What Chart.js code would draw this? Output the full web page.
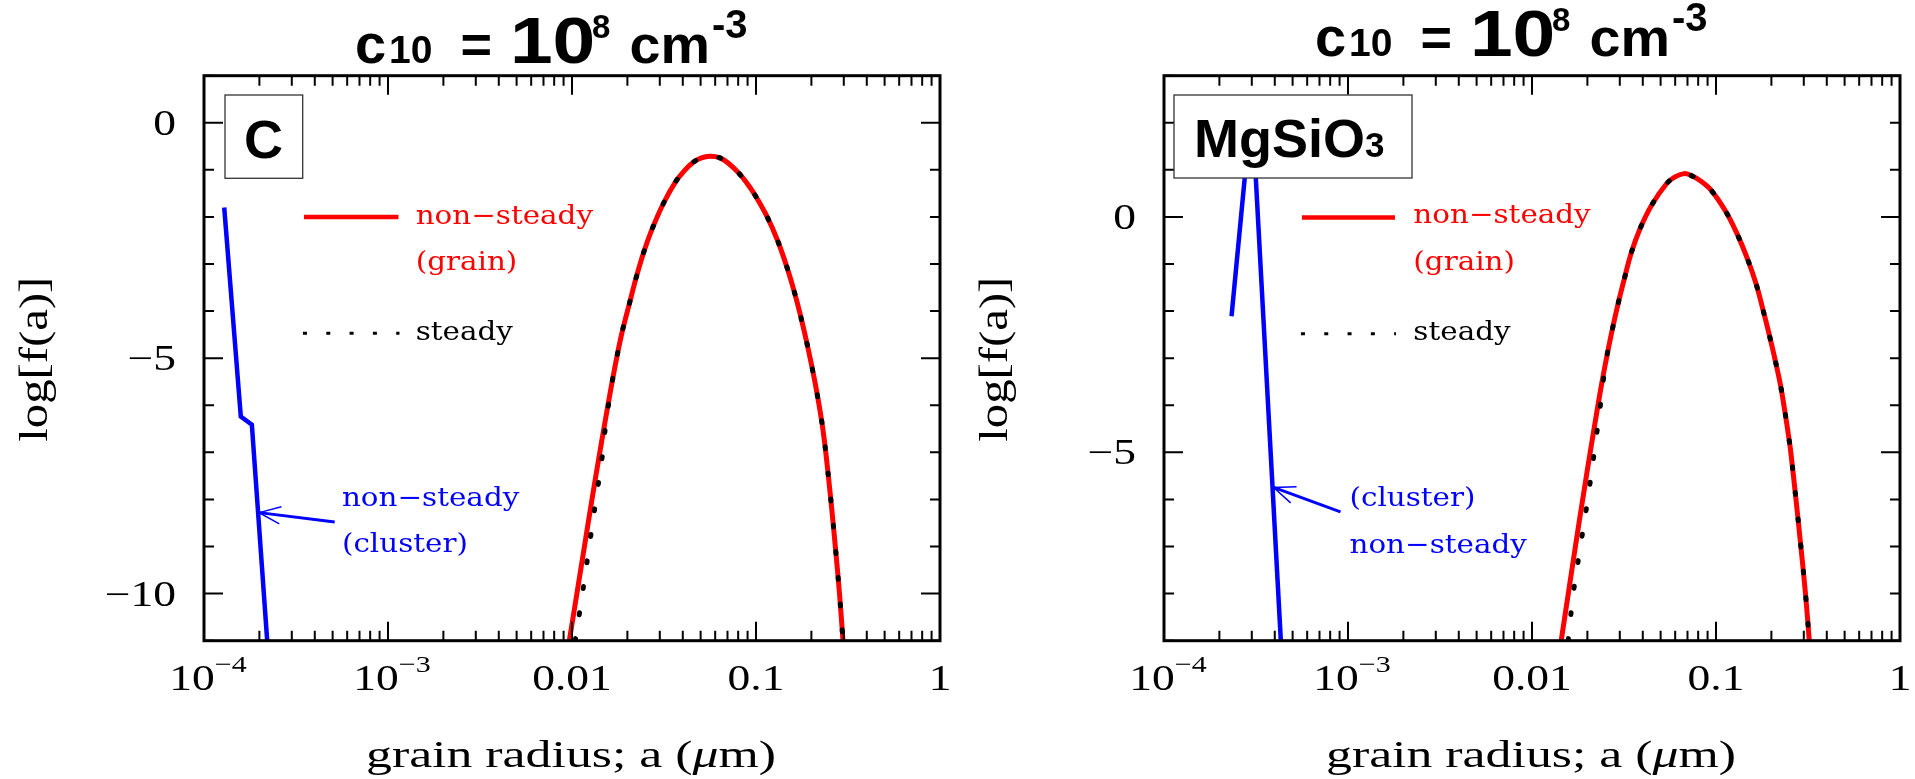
<!DOCTYPE html>
<html>
<head>
<meta charset="utf-8">
<title>grain size distribution</title>
<script src="https://cdn.jsdelivr.net/npm/chart.js@4.4.1/dist/chart.umd.min.js"></script>
<style>
  html, body { margin: 0; padding: 0; background: #fff; }
  canvas { position: absolute; top: 0; }
  #chartC { left: 0; }
  #chartMg { left: 960px; }
</style>
</head>
<body>
<canvas id="chartC" width="960" height="779"></canvas>
<canvas id="chartMg" width="955" height="779"></canvas>
<script>
// log f(a) against grain radius a (um), c10 = 1e8 cm^-3

// carbon: grain (non-steady), steady, cluster (non-steady)
const cGrainA = [0.00967, 0.01063, 0.01168, 0.01284, 0.01416, 0.01482, 0.01563, 0.01660, 0.01762, 0.01884,
  0.02051, 0.02228, 0.02443, 0.02710, 0.03133, 0.03631, 0.04074, 0.04560, 0.05010, 0.05623,
  0.06324, 0.07080, 0.08110, 0.09120, 0.09890, 0.11540, 0.13130, 0.14680, 0.16150, 0.17470,
  0.18840, 0.20200, 0.21450, 0.22700, 0.23420, 0.23950, 0.25500, 0.26980, 0.28430, 0.29700];
const cGrainLogF = [-11.0, -10.0, -9.0, -8.0, -7.0, -6.55, -6.03, -5.46, -4.93, -4.40,
  -3.84, -3.30, -2.77, -2.28, -1.72, -1.27, -1.02, -0.84, -0.75, -0.71,
  -0.74, -0.86, -1.08, -1.33, -1.54, -2.01, -2.51, -3.05, -3.59, -4.10,
  -4.65, -5.21, -5.74, -6.31, -6.69, -7.0, -8.0, -9.0, -10.0, -11.0];
const cSteadyA = [0.01041, 0.01139, 0.01240, 0.01350, 0.01470, 0.01510, 0.01573, 0.01660, 0.01762, 0.01884,
  0.02051, 0.02228, 0.02443, 0.02710, 0.03133, 0.03631, 0.04074, 0.04560, 0.05010, 0.05623,
  0.06324, 0.07080, 0.08110, 0.09120, 0.09890, 0.11540, 0.13130, 0.14680, 0.16150, 0.17470,
  0.18840, 0.20200, 0.21450, 0.22700, 0.23420, 0.23950, 0.25500, 0.26980, 0.28430, 0.29700];
const cSteadyLogF = cGrainLogF.slice();
const cClusterA = [1.288e-4, 1.585e-4, 1.820e-4, 2.205e-4];
const cClusterLogF = [-1.80, -6.24, -6.41, -11.0];

// MgSiO3
const mgGrainA = [0.01441, 0.01575, 0.01721, 0.01886, 0.02071, 0.02278, 0.02410, 0.02563, 0.02735, 0.02938,
  0.03177, 0.03451, 0.03864, 0.04467, 0.05395, 0.05985, 0.06699, 0.07278, 0.08254, 0.09354,
  0.11320, 0.13060, 0.14790, 0.16480, 0.17950, 0.19410, 0.20940, 0.22410, 0.23650, 0.24840,
  0.25500, 0.27210, 0.28920, 0.30640, 0.32150];
const mgGrainLogF = [-9.0, -8.0, -7.0, -6.0, -5.0, -4.02, -3.47, -2.92, -2.38, -1.84,
  -1.31, -0.78, -0.25, 0.25, 0.71, 0.85, 0.92, 0.885, 0.764, 0.58,
  0.11, -0.37, -0.88, -1.41, -1.95, -2.48, -3.03, -3.57, -4.12, -4.67,
  -5.0, -6.0, -7.0, -8.0, -9.0];
const mgSteadyA = [0.01573, 0.01676, 0.01832, 0.02008, 0.02178, 0.02350, 0.02440, 0.02563, 0.02735, 0.02938,
  0.03177, 0.03451, 0.03864, 0.04467, 0.05395, 0.05985, 0.06699, 0.07278, 0.08254, 0.09354,
  0.11320, 0.13060, 0.14790, 0.16480, 0.17950, 0.19410, 0.20940, 0.22410, 0.23650, 0.24840,
  0.25500, 0.27210, 0.28920, 0.30640, 0.32150];
const mgSteadyLogF = mgGrainLogF.slice();
const mgClusterA = [2.328e-4, 3.000e-4, 4.315e-4];
const mgClusterLogF = [-2.11, 2.40, -9.0];

// axes
const xTickValues = [1e-4, 1e-3, 0.01, 0.1, 1];
const xTickLabels = [['10', '\u22124'], ['10', '\u22123'], ['0.01'], ['0.1'], ['1']];
const cYTickValues = [0, -5, -10];
const mgYTickValues = [0, -5];

const RED = '#ff0000';
const BLUE = '#0000ff';
const SERIF = '"Liberation Serif", "Times New Roman", serif';
const NOTE = '"DejaVu Serif", serif';
const SANS = '"Liberation Sans", Arial, sans-serif';

const pts = (xs, ys) => xs.map((x, i) => ({ x: x, y: ys[i] }));
const isDecade = v => Math.abs(Math.log10(v) - Math.round(Math.log10(v))) < 1e-9;

// text pieces laid side by side, each with its own font, horizontal stretch and baseline shift
function drawParts(ctx, parts, x, y, align) {
  let total = 0;
  const widths = parts.map(p => {
    ctx.font = p.font;
    const w = ctx.measureText(p.text).width * (p.sx || 1);
    total += w;
    return w;
  });
  let cx = align === 'center' ? x - total / 2 : align === 'right' ? x - total : x;
  parts.forEach((p, i) => {
    ctx.save();
    ctx.font = p.font;
    ctx.textAlign = 'left';
    ctx.textBaseline = 'alphabetic';
    ctx.translate(cx, y + (p.dy || 0));
    ctx.scale(p.sx || 1, 1);
    ctx.fillText(p.text, 0, 0);
    ctx.restore();
    cx += widths[i];
  });
}

function drawArrow(ctx, x0, y0, x1, y1, color) {
  const ang = Math.atan2(y0 - y1, x0 - x1);
  const len = 23, spread = 22 * Math.PI / 180;
  ctx.strokeStyle = color;
  ctx.lineCap = 'butt';
  ctx.lineWidth = 3;
  ctx.beginPath();
  ctx.moveTo(x0, y0);
  ctx.lineTo(x1, y1);
  ctx.stroke();
  ctx.lineWidth = 1.5;
  ctx.beginPath();
  ctx.moveTo(x1 + len * Math.cos(ang - spread), y1 + len * Math.sin(ang - spread));
  ctx.lineTo(x1, y1);
  ctx.lineTo(x1 + len * Math.cos(ang + spread), y1 + len * Math.sin(ang + spread));
  ctx.stroke();
}

function makeDecor(panel) {
  return {
    id: 'panelDecor',
    afterDatasetsDraw(chart) {
      const { ctx, chartArea: ca } = chart;
      const xs = chart.scales.x, ys = chart.scales.y;
      ctx.save();

      // inward tick marks on all four sides
      ctx.strokeStyle = '#000';
      ctx.lineWidth = 2;
      ctx.beginPath();
      xs.ticks.forEach(t => {
        const px = xs.getPixelForValue(t.value);
        const len = isDecade(t.value) ? 19 : 10;
        ctx.moveTo(px, ca.bottom); ctx.lineTo(px, ca.bottom - len);
        ctx.moveTo(px, ca.top); ctx.lineTo(px, ca.top + len);
      });
      ys.ticks.forEach(t => {
        const py = ys.getPixelForValue(t.value);
        const len = t.value % 5 === 0 ? 19 : 10;
        ctx.moveTo(ca.left, py); ctx.lineTo(ca.left + len, py);
        ctx.moveTo(ca.right, py); ctx.lineTo(ca.right - len, py);
      });
      ctx.stroke();

      // species box
      const b = panel.box;
      ctx.fillStyle = '#fff';
      ctx.fillRect(b.x, b.y, b.w, b.h);
      ctx.strokeStyle = '#333';
      ctx.lineWidth = 1.3;
      ctx.strokeRect(b.x, b.y, b.w, b.h);
      ctx.fillStyle = '#000';
      drawParts(ctx, b.parts, b.tx, b.ty, b.align);

      // frame
      ctx.strokeStyle = '#000';
      ctx.lineWidth = 3;
      ctx.strokeRect(ca.left, ca.top, ca.right - ca.left, ca.bottom - ca.top);

      // legend samples
      const lg = panel.legend;
      const lx0 = xs.getPixelForValue(lg.from), lx1 = xs.getPixelForValue(lg.to);
      ctx.strokeStyle = RED;
      ctx.lineWidth = 4.5;
      ctx.beginPath();
      ctx.moveTo(lx0, ys.getPixelForValue(lg.lineY));
      ctx.lineTo(lx1, ys.getPixelForValue(lg.lineY));
      ctx.stroke();
      ctx.strokeStyle = '#000';
      ctx.lineWidth = 3;
      ctx.lineCap = 'butt';
      ctx.setLineDash([4, 19.3]);
      ctx.beginPath();
      ctx.moveTo(lx0 - 1, ys.getPixelForValue(lg.dotsY));
      ctx.lineTo(lx1 + 1, ys.getPixelForValue(lg.dotsY));
      ctx.stroke();
      ctx.setLineDash([]);

      const tx = xs.getPixelForValue(lg.textA);
      const noteFont = '26px ' + NOTE;
      ctx.fillStyle = RED;
      drawParts(ctx, [{ text: 'non\u2212steady', font: noteFont, sx: 1.13 }], tx, ys.getPixelForValue(lg.textY[0]), 'left');
      drawParts(ctx, [{ text: '(grain)', font: noteFont, sx: 1.13 }], tx, ys.getPixelForValue(lg.textY[1]), 'left');
      ctx.fillStyle = '#000';
      drawParts(ctx, [{ text: 'steady', font: noteFont, sx: 1.13 }], tx, ys.getPixelForValue(lg.textY[2]), 'left');

      // cluster note and arrow
      const cn = panel.clusterNote;
      ctx.fillStyle = BLUE;
      cn.lines.forEach((s, i) => {
        drawParts(ctx, [{ text: s, font: noteFont, sx: 1.13 }], xs.getPixelForValue(cn.a), ys.getPixelForValue(cn.y[i]), 'left');
      });
      const ar = panel.arrow;
      drawArrow(ctx, xs.getPixelForValue(ar.from[0]), ys.getPixelForValue(ar.from[1]),
        xs.getPixelForValue(ar.to[0]), ys.getPixelForValue(ar.to[1]), BLUE);

      ctx.restore();
    },
    afterDraw(chart) {
      const { ctx, chartArea: ca } = chart;
      const xs = chart.scales.x, ys = chart.scales.y;
      ctx.save();
      ctx.fillStyle = '#000';

      // tick labels
      xTickValues.forEach((v, i) => {
        const lab = xTickLabels[i];
        const parts = [{ text: lab[0], font: '35px ' + SERIF, sx: 1.3 }];
        if (lab[1]) parts.push({ text: lab[1], font: '24px ' + SERIF, sx: 1.25, dy: -18 });
        drawParts(ctx, parts, xs.getPixelForValue(v) + (lab[1] ? 4 : 0), 690, 'center');
      });
      panel.yTicks.forEach(v => {
        const s = v === 0 ? '0' : '\u2212' + Math.abs(v);
        drawParts(ctx, [{ text: s, font: '35px ' + SERIF, sx: 1.3 }], 176, ys.getPixelForValue(v) + 12, 'right');
      });

      // axis titles
      const tf = '37px ' + SERIF;
      drawParts(ctx, [
        { text: 'grain radius; a (', font: tf, sx: 1.4 },
        { text: '\u03bc', font: 'italic ' + tf, sx: 1.4 },
        { text: 'm)', font: tf, sx: 1.4 }
      ], (ca.left + ca.right) / 2 - 1, 766.5, 'center');
      ctx.save();
      ctx.translate(47, (ca.top + ca.bottom) / 2 + 1);
      ctx.rotate(-Math.PI / 2);
      drawParts(ctx, [{ text: 'log[f(a)]', font: '39px ' + SERIF, sx: 1.25 }], 0, 0, 'center');
      ctx.restore();

      // panel title: c10 = 10^8 cm^-3
      const ty = panel.titleBaseline;
      const title = [
        { text: 'c', size: 56, x: 355, dy: 0 },
        { text: '10', size: 39, x: 389, dy: 0 },
        { text: '=', size: 54, x: 460.6, dy: 0 },
        { text: '10', size: 64, x: 509.9, dy: 0, sx: 1.2 },
        { text: '8', size: 33, x: 592, dy: -24.4 },
        { text: 'cm', size: 54, x: 629.5, dy: 0, sx: 1.03 },
        { text: '-3', size: 40, x: 712, dy: -24.4 }
      ];
      title.forEach(p => {
        drawParts(ctx, [{ text: p.text, font: 'bold ' + p.size + 'px ' + SANS, dy: p.dy, sx: p.sx }], p.x, ty, 'left');
      });
      ctx.restore();
    }
  };
}

function makePanel(panel) {
  const canvas = document.getElementById(panel.canvas);
  const zeroWidth = s => { s.width = 0; };
  const zeroHeight = s => { s.height = 0; };
  return new Chart(canvas, {
    type: 'scatter',
    data: {
      datasets: [
        {
          label: 'steady',
          data: pts(panel.steady[0], panel.steady[1]),
          showLine: true,
          borderColor: '#000',
          borderWidth: 5,
          borderDash: [2, 24.3],
          borderCapStyle: 'round',
          tension: 0.35,
          pointRadius: 0,
          order: 0
        },
        {
          label: 'non-steady (grain)',
          data: pts(panel.grain[0], panel.grain[1]),
          showLine: true,
          borderColor: RED,
          borderWidth: 5,
          tension: 0.35,
          pointRadius: 0,
          order: 1
        },
        {
          label: 'non-steady (cluster)',
          data: pts(panel.cluster[0], panel.cluster[1]),
          showLine: true,
          borderColor: BLUE,
          borderWidth: 4.5,
          borderJoinStyle: 'miter',
          tension: 0,
          pointRadius: 0,
          order: 2
        }
      ]
    },
    options: {
      responsive: false,
      animation: false,
      devicePixelRatio: 1,
      layout: { padding: { left: 204, right: panel.padRight, top: 75.7, bottom: 138.3 } },
      plugins: { legend: { display: false }, tooltip: { enabled: false }, title: { display: false } },
      scales: {
        x: {
          type: 'logarithmic',
          min: 1e-4,
          max: 1,
          grid: { display: false },
          border: { display: false },
          ticks: { display: false },
          afterBuildTicks: scale => {
            const t = [];
            for (let e = -4; e < 0; e++) {
              for (let k = 1; k <= 9; k++) t.push({ value: k * Math.pow(10, e) });
            }
            t.push({ value: 1 });
            scale.ticks = t;
          },
          afterFit: zeroHeight
        },
        y: {
          type: 'linear',
          min: panel.yMin,
          max: panel.yMax,
          grid: { display: false },
          border: { display: false },
          ticks: { display: false, stepSize: 1 },
          afterFit: zeroWidth
        }
      }
    },
    plugins: [makeDecor(panel)]
  });
}

makePanel({
  canvas: 'chartC',
  padRight: 20,
  yMin: -11, yMax: 1,
  yTicks: cYTickValues,
  grain: [cGrainA, cGrainLogF],
  steady: [cSteadyA, cSteadyLogF],
  cluster: [cClusterA, cClusterLogF],
  titleBaseline: 62.7,
  box: {
    x: 225, y: 95, w: 77.7, h: 83.3, tx: 263.5, ty: 157.5, align: 'center',
    parts: [{ text: 'C', font: 'bold 54px ' + SANS }]
  },
  legend: { from: 3.495e-4, to: 1.14e-3, lineY: -2.0, dotsY: -4.47, textA: 1.414e-3, textY: [-2.14, -3.13, -4.61] },
  clusterNote: { a: 5.62e-4, y: [-8.14, -9.12], lines: ['non\u2212steady', '(cluster)'] },
  arrow: { from: [5.13e-4, -8.48], to: [1.995e-4, -8.28] }
});

makePanel({
  canvas: 'chartMg',
  padRight: 15,
  yMin: -9, yMax: 3,
  yTicks: mgYTickValues,
  grain: [mgGrainA, mgGrainLogF],
  steady: [mgSteadyA, mgSteadyLogF],
  cluster: [mgClusterA, mgClusterLogF],
  titleBaseline: 55.5,
  box: {
    x: 214, y: 95, w: 238, h: 83, tx: 234, ty: 156.7, align: 'left',
    parts: [{ text: 'MgSiO', font: 'bold 54px ' + SANS }, { text: '3', font: 'bold 35px ' + SANS }]
  },
  legend: { from: 5.62e-4, to: 1.80e-3, lineY: -0.01, dotsY: -2.48, textA: 2.266e-3, textY: [-0.13, -1.13, -2.62] },
  clusterNote: { a: 1.019e-3, y: [-6.14, -7.13], lines: ['(cluster)', 'non\u2212steady'] },
  arrow: { from: [9.1e-4, -6.263], to: [3.94e-4, -5.745] }
});
</script>
</body>
</html>
